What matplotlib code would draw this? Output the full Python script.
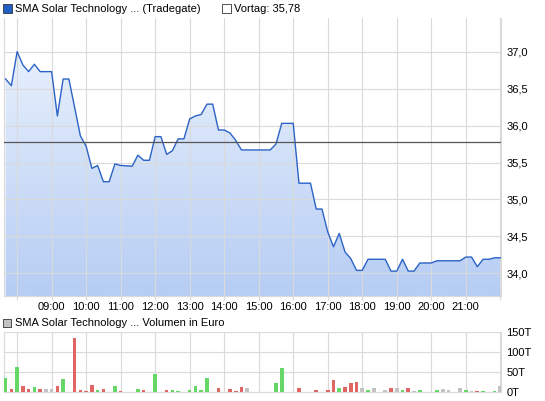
import matplotlib
matplotlib.use("Agg")
import matplotlib.pyplot as plt
from matplotlib.patches import Rectangle
import numpy as np

plt.rcParams['font.family'] = ['Liberation Sans', 'DejaVu Sans']

# Kursverlauf (Tradegate), Zeitpunkte im 10-Minuten-Raster
price_times = ["07:40", "07:50", "08:00", "08:10", "08:20", "08:30", "08:40", "09:00",
               "09:10", "09:20", "09:30", "09:50", "10:00", "10:10", "10:20", "10:30",
               "10:40", "10:50", "11:00", "11:20", "11:30", "11:40", "11:50", "12:00",
               "12:10", "12:20", "12:30", "12:40", "12:50", "13:00", "13:10", "13:20",
               "13:30", "13:40", "13:50", "14:00", "14:10", "14:20", "14:30", "15:20",
               "15:30", "15:40", "16:00", "16:10", "16:30", "16:40", "16:50", "17:00",
               "17:10", "17:20", "17:30", "17:40", "17:50", "18:00", "18:10", "18:40",
               "18:50", "19:00", "19:10", "19:20", "19:30", "19:40", "20:00", "20:10",
               "20:50", "21:00", "21:10", "21:20", "21:30", "21:40", "21:50", "22:00"]
prices = [36.63, 36.54, 37.00, 36.82, 36.73, 36.83, 36.73, 36.73,
          36.13, 36.63, 36.63, 35.86, 35.72, 35.42, 35.46, 35.24,
          35.24, 35.48, 35.46, 35.45, 35.60, 35.53, 35.53, 35.85,
          35.85, 35.61, 35.66, 35.82, 35.82, 36.09, 36.13, 36.15,
          36.29, 36.29, 35.94, 35.94, 35.90, 35.80, 35.67, 35.67,
          35.75, 36.03, 36.03, 35.22, 35.22, 34.87, 34.87, 34.56,
          34.36, 34.54, 34.29, 34.20, 34.04, 34.04, 34.19, 34.19,
          34.03, 34.03, 34.19, 34.03, 34.03, 34.14, 34.14, 34.17,
          34.17, 34.22, 34.22, 34.09, 34.19, 34.19, 34.21, 34.21]
vortag = 35.78

# Umsatz in Tausend Euro, Farbe: g = steigend, r = fallend, n = unveraendert
vol_times = ["07:40", "07:50", "08:00", "08:10", "08:20", "08:30", "08:40", "08:50",
             "09:00", "09:10", "09:20", "09:40", "09:50", "10:00", "10:10", "10:20",
             "10:30", "10:50", "11:00", "11:30", "11:40", "12:00", "12:20", "12:30",
             "12:40", "13:00", "13:10", "13:20", "13:30", "13:50", "14:10", "14:20",
             "14:30", "14:40", "15:30", "15:40", "16:10", "16:40", "17:00", "17:10",
             "17:20", "17:30", "17:40", "17:50", "18:00", "18:10", "18:20", "18:40",
             "18:50", "19:00", "19:10", "19:20", "19:30", "19:40", "20:10", "20:20",
             "20:30", "20:50", "21:00", "21:10", "21:20", "21:30", "21:50", "22:00"]
volumes = [35, 7, 62, 14, 7, 12, 7, 7,
           7, 14, 32, 136, 4, 2, 16, 4,
           7, 14, 2, 7, 4, 44, 4, 3,
           2, 3, 14, 3, 34, 8, 6, 2,
           11, 8, 21, 59, 8, 3, 3, 29,
           8, 11, 21, 24, 8, 3, 8, 3,
           8, 8, 3, 8, 1, 3, 3, 6,
           3, 8, 3, 1, 1, 1, 1, 13]
vol_dir = ["g", "r", "g", "r", "r", "g", "r", "n",
           "n", "r", "g", "r", "r", "r", "r", "g",
           "r", "g", "r", "g", "r", "g", "r", "g",
           "g", "g", "g", "g", "g", "r", "r", "r",
           "r", "n", "g", "g", "r", "r", "r", "r",
           "g", "r", "r", "r", "n", "g", "n", "n",
           "r", "n", "g", "r", "n", "g", "g", "n",
           "n", "n", "g", "n", "r", "g", "g", "n"]

hour_ticks = list(range(8, 23))
tick_labels = ["" if h in (8, 22) else "%02d:00" % h for h in hour_ticks]


def to_hours(t):
    h, m = t.split(":")
    return int(h) + int(m) / 60


px = np.array([to_hours(t) for t in price_times])
py = np.array(prices)
vx = np.array([to_hours(t) for t in vol_times])

grid_c = "#dadada"
xmin, xmax = 7.62, 22.02
W, H = 545, 401

fig = plt.figure(figsize=(W / 100, H / 100), dpi=100)

# Kurschart
ax = fig.add_axes([4 / W, 1 - 296 / H, 497 / W, 278 / H])
ylo, yhi = 33.693, 37.456
ax.set_xlim(xmin, xmax)
ax.set_ylim(ylo, yhi)

grad = np.linspace(1, 0, 256).reshape(-1, 1)
cmap = matplotlib.colors.LinearSegmentedColormap.from_list("f", ["#b6cdf4", "#eef4fd"])
img = ax.imshow(grad, extent=[xmin, xmax, ylo, yhi], aspect="auto", cmap=cmap,
                origin="upper", zorder=1)
poly = ax.fill_between(px, py, ylo, color="none", lw=0)
clip = matplotlib.patches.Polygon(poly.get_paths()[0].vertices, closed=True,
                                  transform=ax.transData, facecolor="none", edgecolor="none")
ax.add_patch(clip)
img.set_clip_path(clip)

ax.plot(px, py, color="#2b63c6", lw=1.0, zorder=4)
ax.axhline(vortag, color="#555555", lw=0.9, zorder=5)

ax.set_xticks(hour_ticks)
ax.set_xticklabels(tick_labels)
ax.set_yticks([34.0, 34.5, 35.0, 35.5, 36.0, 36.5, 37.0])
ax.set_yticklabels(["34,0", "34,5", "35,0", "35,5", "36,0", "36,5", "37,0"])
ax.yaxis.tick_right()
ax.grid(True, color=grid_c, lw=0.8, zorder=0)
for gl in ax.get_xgridlines() + ax.get_ygridlines():
    gl.set_zorder(2)
ax.tick_params(axis="x", length=3, color=grid_c, labelsize=8, pad=1)
ax.tick_params(axis="y", length=0, labelsize=8, pad=4)
ax.spines["top"].set_visible(False)
for s in ["left", "right", "bottom"]:
    ax.spines[s].set_color(grid_c)
    ax.spines[s].set_linewidth(0.8)

# Volumenchart
ax2 = fig.add_axes([4 / W, 1 - 391.5 / H, 497 / W, 59.2 / H])
colors = {"g": "#66d766", "r": "#e06666", "n": "#c3c3c3"}
ax2.bar(vx, volumes, width=0.105, color=[colors[d] for d in vol_dir], zorder=3)
ax2.set_xlim(xmin, xmax)
ax2.set_ylim(0, 150)
ax2.set_xticks(hour_ticks)
ax2.set_xticklabels([])
ax2.set_yticks([0, 50, 100, 150])
ax2.set_yticklabels(["0T", "50T", "100T", "150T"])
ax2.yaxis.tick_right()
ax2.grid(True, color=grid_c, lw=0.8, zorder=0)
ax2.tick_params(axis="both", length=0, labelsize=8, pad=4)
ax2.spines["top"].set_visible(False)
for s in ["left", "right", "bottom"]:
    ax2.spines[s].set_color(grid_c)
    ax2.spines[s].set_linewidth(0.8)

# Legenden
fig.add_artist(Rectangle((3 / W, 1 - 13 / H), 9 / W, 9 / H, transform=fig.transFigure,
                         facecolor="#1f5fc6", edgecolor="#333333", lw=0.6))
fig.text(15 / W, 1 - 8.5 / H, "SMA Solar Technology ... (Tradegate)", fontsize=8,
         va="center", ha="left")
fig.add_artist(Rectangle((222 / W, 1 - 13 / H), 9 / W, 9 / H, transform=fig.transFigure,
                         facecolor="white", edgecolor="#333333", lw=0.6))
fig.text(234 / W, 1 - 8.5 / H, "Vortag: 35,78", fontsize=8, va="center", ha="left")
fig.add_artist(Rectangle((3 / W, 1 - 327 / H), 8 / W, 8 / H, transform=fig.transFigure,
                         facecolor="#c3c3c3", edgecolor="#333333", lw=0.6))
fig.text(15 / W, 1 - 323 / H, "SMA Solar Technology ... Volumen in Euro", fontsize=8,
         va="center", ha="left")

fig.savefig("out.png", dpi=100)
